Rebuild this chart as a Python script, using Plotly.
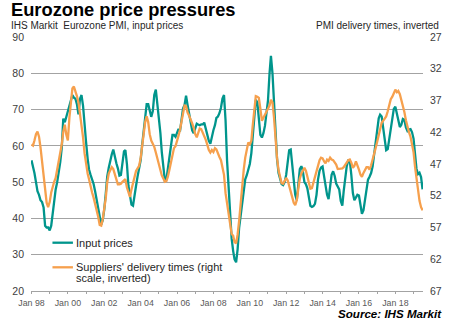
import pandas as pd
import plotly.graph_objects as go

start_month = "1998-01-01"

input_prices = [
    56, 54.5, 52.5, 50, 47.5, 46.5, 45, 44.5,
    43, 38, 37.5, 37.5, 36.7, 38, 41.5, 45,
    48, 50, 52.5, 55.5, 59.5, 67.5, 66.5, 68,
    70, 71.5, 73, 74, 73.3, 73, 71.5, 68.7,
    73, 74, 71, 67, 61, 56.5, 53.5, 52,
    51, 49.5, 47.5, 45, 43.2, 40.5, 38.3, 39.5,
    42.5, 47, 51.5, 54, 56, 57.7, 59, 56.8,
    55.2, 53.8, 51.8, 52, 56, 58.5, 58.8, 55,
    49, 46, 43.8, 43.5, 47.2, 49, 51.6, 53.8,
    56, 60.3, 64.5, 68, 71.5, 71.5, 70, 68,
    69.5, 74, 75.5, 71.8, 68.5, 63.5, 58.3, 54,
    50.5, 50.7, 53.5, 57, 60.5, 63, 63, 62.5,
    63.6, 64.7, 64, 66.8, 70.3, 71.3, 73.8, 71.2,
    69, 67.3, 64.3, 63.5, 65, 66.1, 65.9, 65.7,
    65.9, 65.9, 66.4, 64.5, 63.2, 61.4, 60.6, 62.9,
    64.3, 65.7, 67.7, 68.1, 69, 70.5, 73, 74,
    67, 56, 48.5, 40.5, 34.5, 31, 28.7, 27.9,
    31.5, 37.5, 41, 44.5, 48.5, 50.8, 51.9, 53.3,
    55, 58, 63.5, 68.5, 72.7, 72, 66.5, 63,
    62.3, 63.5, 65.5, 68.5, 72.5, 80, 84.8, 80,
    72, 63, 56.5, 52.5, 50.6, 49.5, 49.2, 50,
    52, 56, 58.8, 59, 55, 50.5, 46.5, 45,
    49.4, 53.6, 54.4, 53, 50, 49.4, 48.3, 45.5,
    43.5, 43.2, 43.4, 44, 46.5, 50.7, 53.1, 54,
    54.3, 51.5, 49, 46.5, 45.3, 49.3, 52, 53,
    51.7, 49.6, 48.7, 48, 44.8, 43.5, 47.5, 51.5,
    54.4, 56, 56, 52, 47, 45, 45.7, 46.5,
    46.3, 43.5, 41.3, 42.3, 45.5, 48.6, 50.7, 51.5,
    52.5, 54.3, 57.3, 60.4, 63.8, 67.6, 68.6, 68.1,
    65, 61.2, 58.8, 59.1, 61.8, 65.2, 68.3, 70.2,
    70.8, 68.6, 67, 65.2, 65.8, 67.4, 67.2, 65.1,
    64.1, 64.5, 64.6, 63.8, 62, 57.6, 53.7, 52.2,
    52.6, 51.4, 48,
]

delivery_times = [
    43.9, 44.1, 43.3, 42.3, 41.9, 42.7, 44.4, 46.7,
    48.8, 51.4, 53.1, 53.8, 53.0, 51.5, 50.5, 49.8,
    49.2, 47.9, 46.4, 45.3, 43.9, 41.9, 40.8, 42.4,
    43.3, 39.7, 37.7, 35.1, 34.8, 35.5, 36.3, 37.3,
    38.9, 40.7, 42.8, 45.3, 47.1, 48.5, 49.4, 50.7,
    51.5, 52.3, 53.2, 54.2, 55.3, 56.6, 56.7, 55.7,
    54.3, 52.3, 49.9, 48.5, 48.0, 47.5, 47.8, 48.7,
    49.5, 50.2, 50.2, 50.1, 49.8, 49.5, 49.4, 50.7,
    51.5, 52.2, 51.0, 49.9, 48.9, 48.1, 47.7, 47.3,
    46.1, 44.2, 42.2, 40.4, 39.5, 40.4, 42.3, 43.3,
    43.8, 44.3, 45.2, 46.1, 47.2, 48.1, 48.8, 49.3,
    49.8, 49.7, 49.0, 47.9, 46.7, 45.5, 44.5, 44.2,
    43.5, 42.5, 41.6, 40.3, 38.8, 37.8, 37.9, 38.9,
    39.4, 39.9, 40.6, 41.3, 42.3, 42.8, 41.9, 41.4,
    41.5, 42.0, 42.6, 43.2, 44.0, 44.8, 45.2, 44.8,
    45.1, 44.5, 44.7, 45.5, 45.9, 46.4, 47.6, 48.7,
    51.6, 53.3, 54.7, 57.0, 58.0, 58.3, 59.3, 59.5,
    58.1, 55.9, 52.9, 49.9, 47.9, 46.0, 44.5, 43.6,
    44.0, 43.3, 40.9, 37.9, 36.3, 36.4, 36.6, 38.3,
    40.2, 39.7, 39.2, 38.8, 38.4, 37.8, 36.9, 37.3,
    39.6, 43.0, 46.0, 48.0, 49.3, 50.0, 50.1, 49.6,
    49.2, 49.6, 50.5, 51.5, 52.4, 53.1, 53.5, 52.7,
    50.9, 49.3, 48.5, 48.0, 47.6, 48.1, 49.1, 50.1,
    50.9, 50.8, 49.9, 48.9, 48.0, 47.2, 46.4, 46.0,
    46.1, 46.6, 46.9, 46.3, 46.5, 46.0, 46.3, 46.4,
    46.7, 47.1, 47.8, 47.8, 47.7, 47.7, 47.5, 47.1,
    46.7, 46.4, 46.3, 46.8, 47.6, 47.3, 46.6, 47.1,
    47.9, 48.7, 49.0, 48.4, 47.9, 47.5, 47.5, 47.9,
    47.2, 46.4, 45.5, 44.5, 43.5, 42.4, 41.5, 40.5,
    40.2, 39.9, 39.5, 38.7, 37.8, 36.8, 36.4, 35.7,
    35.3, 35.7, 35.5, 36.0, 36.8, 37.7, 38.8, 40.1,
    41.3, 42.0, 42.7, 43.8, 45.1, 47.5, 49.5, 51.3,
    52.8, 53.8, 54.3,
]

assert len(input_prices) == len(delivery_times)
dates = pd.date_range(start_month, periods=len(input_prices), freq="MS")

TEAL = "#00958c"
ORANGE = "#f6a04d"
GRID = "#a3a3a3"
FONT = "Liberation Sans, Arial, sans-serif"
TXT = "#262626"

fig = go.Figure()
fig.add_trace(go.Scatter(x=dates, y=delivery_times, yaxis="y2", mode="lines",
                         line=dict(color=ORANGE, width=2.3), name="Suppliers' delivery times"))
fig.add_trace(go.Scatter(x=dates, y=input_prices, mode="lines",
                         line=dict(color=TEAL, width=2.3), name="Input prices"))

fig.update_layout(
    width=454, height=321,
    margin=dict(l=25, r=27, t=37, b=30),
    paper_bgcolor="white", plot_bgcolor="white",
    showlegend=False,
    font=dict(family=FONT, size=10, color=TXT),
    xaxis=dict(
        type="date", range=["1997-12-22", "2019-07-10"],
        tick0="1998-01-01", dtick="M24", tickformat="%b %y",
        showgrid=False, showline=True, linecolor=GRID, linewidth=1,
        ticks="outside", ticklen=2, tickcolor=GRID,
        minor=dict(dtick="M12", ticks="outside", ticklen=2, tickcolor=GRID),
        tickfont=dict(size=8.8, color="#595959"),
        ticklabelstandoff=1,
        zeroline=False,
    ),
    yaxis=dict(
        range=[20, 90], tick0=20, dtick=10,
        showgrid=True, gridcolor=GRID, gridwidth=1.2,
        zeroline=False, showline=False, ticks="",
        tickfont=dict(size=10.5, color="#404040"),
        ticklabelstandoff=6,
    ),
    yaxis2=dict(
        range=[67, 27], tick0=27, dtick=5, overlaying="y", side="right",
        showgrid=False, zeroline=False, showline=False, ticks="",
        tickfont=dict(size=10.5, color="#404040"),
        ticklabelstandoff=6,
    ),
)

def px(xp):
    return (xp - 25) / 402.0

def py(yp):
    return (291 - yp) / 254.0

ann = [
    dict(text="<b>Eurozone price pressures</b>", x=px(2), y=py(10), xanchor="left", yanchor="middle",
         font=dict(size=18.3, color="#000000")),
    dict(text="IHS Markit  Eurozone PMI, input prices", x=px(2), y=py(25), xanchor="left", yanchor="middle",
         font=dict(size=10, color=TXT)),
    dict(text="PMI delivery times, inverted", x=px(445), y=py(25), xanchor="right", yanchor="middle",
         font=dict(size=10, color=TXT)),
    dict(text="<b><i>Source: IHS Markit</i></b>", x=px(448), y=py(313.5), xanchor="right", yanchor="middle",
         font=dict(size=11.6, color="#000000"), borderpad=0),
    dict(text="Input prices", x=px(69.5), y=py(242.7), xanchor="left", yanchor="middle",
         font=dict(size=11, color=TXT)),
    dict(text="Suppliers' delivery times (right", x=px(69.5), y=py(267.3), xanchor="left", yanchor="middle",
         font=dict(size=11, color=TXT)),
    dict(text="scale, inverted)", x=px(69.5), y=py(278.4), xanchor="left", yanchor="middle",
         font=dict(size=11, color=TXT)),
]
for a in ann:
    a.update(xref="paper", yref="paper", showarrow=False)
fig.update_layout(annotations=ann)

fig.add_shape(type="line", xref="paper", yref="paper", x0=px(47), x1=px(68), y0=py(242.7), y1=py(242.7),
              line=dict(color=TEAL, width=2.3))
fig.add_shape(type="line", xref="paper", yref="paper", x0=px(47), x1=px(68), y0=py(267.3), y1=py(267.3),
              line=dict(color=ORANGE, width=2.3))

fig.write_html("out.html")
